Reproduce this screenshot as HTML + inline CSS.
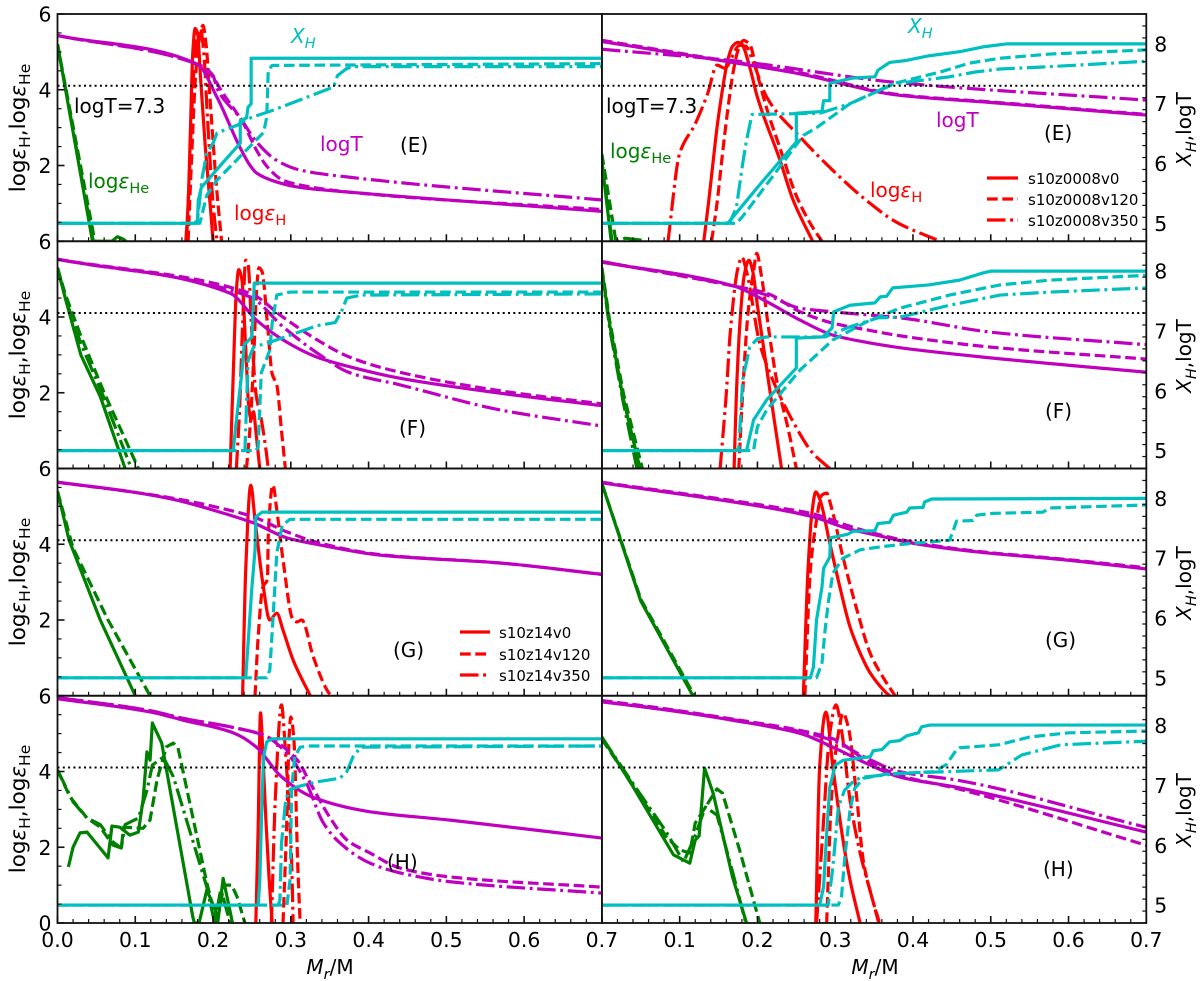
<!DOCTYPE html>
<html>
<head>
<meta charset="utf-8">
<title>Stellar profile panels</title>
<style>
html,body{margin:0;padding:0;background:#fff;}
svg{display:block;font-family:"DejaVu Sans","Liberation Sans",sans-serif;}
text{fill:#000;}
.m{font-size:20px;}
.g{fill:#008000;}.r{fill:#ff0000;}.c{fill:#00bfbf;}.p{fill:#bf00bf;}
.i{font-style:italic;}
.yl{font-size:21.5px;}
</style>
</head>
<body>
<svg id="chart" xmlns="http://www.w3.org/2000/svg" width="1200" height="981" viewBox="0 0 1200 981">
<rect x="0" y="0" width="1200" height="981" fill="#fff"/>
<g id="marks"></g>
<g id="frames"></g>

<g class="m">
<text x="291" y="43" class="c i">X<tspan dy="5" font-size="14.5">H</tspan></text>
<text x="908" y="33" class="c i">X<tspan dy="5" font-size="14.5">H</tspan></text>
<text x="74" y="113">logT=7.3</text>
<text x="606" y="113">logT=7.3</text>
<text x="88" y="188" class="g">log<tspan class="i">ε</tspan><tspan dy="5" font-size="14.5">He</tspan></text>
<text x="610" y="158" class="g">log<tspan class="i">ε</tspan><tspan dy="5" font-size="14.5">He</tspan></text>
<text x="320" y="151" class="p">logT</text>
<text x="936" y="127" class="p">logT</text>
<text x="234" y="220" class="r">log<tspan class="i">ε</tspan><tspan dy="5" font-size="14.5">H</tspan></text>
<text x="870" y="197" class="r">log<tspan class="i">ε</tspan><tspan dy="5" font-size="14.5">H</tspan></text>
<text x="400" y="152">(E)</text>
<text x="1044" y="140">(E)</text>
<text x="399" y="435">(F)</text>
<text x="1045" y="418">(F)</text>
<text x="393" y="657">(G)</text>
<text x="1045" y="647">(G)</text>
<text x="387" y="869">(H)</text>
<text x="1043" y="876">(H)</text>
</g>

<g font-size="15">
<line x1="987" x2="1018" y1="178" y2="178" stroke="#f00" stroke-width="3.2"/>
<text x="1028" y="184">s10z0008v0</text>
<line x1="987" x2="1018" y1="199" y2="199" stroke="#f00" stroke-width="3.2" stroke-dasharray="10.7 4.6"/>
<text x="1028" y="205">s10z0008v120</text>
<line x1="987" x2="1018" y1="220" y2="220" stroke="#f00" stroke-width="3.2" stroke-dasharray="18.5 4.6 2.9 4.6"/>
<text x="1028" y="226">s10z0008v350</text>
</g>
<g font-size="15">
<line x1="460" x2="490" y1="632" y2="632" stroke="#f00" stroke-width="3.2"/>
<text x="499" y="638">s10z14v0</text>
<line x1="460" x2="490" y1="654" y2="654" stroke="#f00" stroke-width="3.2" stroke-dasharray="10.7 4.6"/>
<text x="499" y="660">s10z14v120</text>
<line x1="460" x2="490" y1="675" y2="675" stroke="#f00" stroke-width="3.2" stroke-dasharray="18.5 4.6 2.9 4.6"/>
<text x="499" y="681">s10z14v350</text>
</g>

<g class="m">
<text x="330" y="974" text-anchor="middle"><tspan class="i">M</tspan><tspan class="i" dy="5" font-size="14.5">r</tspan><tspan dy="-5">/M</tspan></text>
<text x="875" y="974" text-anchor="middle"><tspan class="i">M</tspan><tspan class="i" dy="5" font-size="14.5">r</tspan><tspan dy="-5">/M</tspan></text>
<text class="yl" transform="translate(25,128) rotate(-90)" text-anchor="middle">log<tspan class="i">ε</tspan><tspan dy="5" font-size="15.5">H</tspan><tspan dy="-5">,log</tspan><tspan class="i">ε</tspan><tspan dy="5" font-size="15.5">He</tspan></text>
<text class="yl" transform="translate(25,355) rotate(-90)" text-anchor="middle">log<tspan class="i">ε</tspan><tspan dy="5" font-size="15.5">H</tspan><tspan dy="-5">,log</tspan><tspan class="i">ε</tspan><tspan dy="5" font-size="15.5">He</tspan></text>
<text class="yl" transform="translate(25,582) rotate(-90)" text-anchor="middle">log<tspan class="i">ε</tspan><tspan dy="5" font-size="15.5">H</tspan><tspan dy="-5">,log</tspan><tspan class="i">ε</tspan><tspan dy="5" font-size="15.5">He</tspan></text>
<text class="yl" transform="translate(25,809) rotate(-90)" text-anchor="middle">log<tspan class="i">ε</tspan><tspan dy="5" font-size="15.5">H</tspan><tspan dy="-5">,log</tspan><tspan class="i">ε</tspan><tspan dy="5" font-size="15.5">He</tspan></text>
<text transform="translate(1191,129) rotate(-90)" text-anchor="middle"><tspan class="i">X</tspan><tspan class="i" dy="5" font-size="14.5">H</tspan><tspan dy="-5">,logT</tspan></text>
<text transform="translate(1191,356) rotate(-90)" text-anchor="middle"><tspan class="i">X</tspan><tspan class="i" dy="5" font-size="14.5">H</tspan><tspan dy="-5">,logT</tspan></text>
<text transform="translate(1191,583) rotate(-90)" text-anchor="middle"><tspan class="i">X</tspan><tspan class="i" dy="5" font-size="14.5">H</tspan><tspan dy="-5">,logT</tspan></text>
<text transform="translate(1191,810) rotate(-90)" text-anchor="middle"><tspan class="i">X</tspan><tspan class="i" dy="5" font-size="14.5">H</tspan><tspan dy="-5">,logT</tspan></text>
</g>
</svg>

<script>
// Tick values
const xMajorTicks = [0.0,0.1,0.2,0.3,0.4,0.5,0.6,0.7];
const leftMajorTicks = [6,4,2,0];
const rightMajorTicks = [5,6,7,8];
const dottedLevel = [7.3];

// ---- Panel E, left ----
const eLHeV0 = [[0,5.2],[0.045,0],[0.07,0],[0.077,0.12],[0.085,0.05],[0.088,0]];
const eLHeV120 = [[0,5.2],[0.048,0]];
const eLHeV350 = [[0,5.2],[0.046,0]];
const eLHV0 = [[0.165,0],[0.168,1],[0.171,3],[0.174,5],[0.177,5.62],[0.18,5.5],[0.184,4.3],[0.19,2.5],[0.197,0.8],[0.2,0]];
const eLHV120 = [[0.168,0],[0.172,2],[0.178,4.5],[0.183,5.4],[0.187,5.7],[0.191,5.2],[0.197,3.5],[0.205,1.3],[0.211,0]];
const eLHV350 = [[0.166,0],[0.17,2],[0.175,4.4],[0.18,5.5],[0.184,5.6],[0.188,5],[0.193,3.2],[0.2,1],[0.205,0]];
const eLTV0 = [[0,8.14],[0.18,7.66],[0.205,7.11],[0.235,6.26],[0.2475,5.97],[0.256,5.84],[0.282,5.69],[0.312,5.6],[0.376,5.52],[0.7,5.2]];
const eLTV120 = [[0,8.14],[0.18,7.66],[0.196,7.51],[0.213,7.17],[0.239,6.67],[0.256,6.22],[0.27,5.94],[0.29,5.72],[0.312,5.64],[0.376,5.52],[0.7,5.23]];
const eLTV350 = [[0,8.14],[0.18,7.66],[0.2,7.47],[0.205,7.26],[0.235,6.76],[0.256,6.36],[0.282,6.05],[0.312,5.89],[0.376,5.77],[0.7,5.39]];
const eLXV0 = [[0,5],[0.176,5],[0.18,5.05],[0.181,5.38],[0.185,5.6],[0.213,6.02],[0.235,6.34],[0.235,6.72],[0.243,6.76],[0.245,6.94],[0.249,7],[0.249,7.76],[0.7,7.76]];
const eLXV120 = [[0,5],[0.183,5],[0.192,5.47],[0.205,5.72],[0.265,6.52],[0.269,6.77],[0.271,7.56],[0.276,7.64],[0.7,7.67]];
const eLXV350 = [[0,5],[0.178,5],[0.18,5.05],[0.186,5.77],[0.192,6.17],[0.2,6.34],[0.205,6.51],[0.231,6.64],[0.243,6.74],[0.277,6.89],[0.355,7.28],[0.36,7.47],[0.372,7.59],[0.38,7.62],[0.7,7.62]];

// ---- Panel E, right ----
const eRHeV0 = [[0,2.1],[0.012,0]];
const eRHeV120 = [[0,2.3],[0.018,0]];
const eRHeV350 = [[0,2.1],[0.013,0],[0.02,0],[0.03,0.08],[0.05,0.03],[0.054,0]];
const eRHV0 = [[0.131,0],[0.137,1],[0.143,2.1],[0.148,3],[0.155,4],[0.162,4.8],[0.168,5.15],[0.175,5.25],[0.18,5.2],[0.19,4.6],[0.2,3.8],[0.229,2.14],[0.246,1.08],[0.271,0]];
const eRHV120 = [[0.141,0],[0.148,1],[0.155,2.3],[0.162,3.5],[0.17,4.6],[0.176,5.1],[0.182,5.3],[0.19,5.2],[0.2,4.4],[0.212,3.5],[0.23,2.4],[0.25,1.2],[0.27,0.4],[0.283,0]];
const eRHV350 = [[0.085,0],[0.1,2.32],[0.12,3.1],[0.136,3.9],[0.148,4.65],[0.158,4.57],[0.177,5.17],[0.185,5.15],[0.195,4.7],[0.212,3.8],[0.255,2.75],[0.297,1.87],[0.34,1.08],[0.379,0.5],[0.435,0]];
const eRTV0 = [[0,8.04],[0.168,7.69],[0.25,7.51],[0.383,7.14],[0.5,7.02],[0.7,6.81]];
const eRTV120 = [[0,8.06],[0.168,7.7],[0.25,7.53],[0.383,7.15],[0.5,7.03],[0.7,6.82]];
const eRTV350 = [[0,7.91],[0.168,7.72],[0.383,7.35],[0.7,7.06]];
const eRXV0 = [[0,5],[0.162,5],[0.165,5.05],[0.2,5.6],[0.25,6.36],[0.25,6.84],[0.283,6.87],[0.285,7.05],[0.293,7.05],[0.293,7.34],[0.323,7.43],[0.351,7.45],[0.355,7.56],[0.37,7.69],[0.39,7.72],[0.42,7.8],[0.46,7.87],[0.49,7.95],[0.52,8],[0.7,8]];
const eRXV120 = [[0,5],[0.173,5],[0.18,5.1],[0.19,5.27],[0.259,6.47],[0.276,6.6],[0.319,7],[0.379,7.35],[0.435,7.53],[0.473,7.68],[0.512,7.76],[0.576,7.83],[0.7,7.9]];
const eRXV350 = [[0,5],[0.16,5],[0.165,5.03],[0.173,5.27],[0.181,6],[0.186,6.39],[0.193,6.82],[0.28,6.84],[0.319,7],[0.374,7.33],[0.447,7.45],[0.48,7.53],[0.512,7.58],[0.576,7.62],[0.7,7.71]];

// ---- Panel F, left ----
const fLHeV0 = [[0,5.3],[0.01,4.5],[0.03,3],[0.055,1.9],[0.087,0]];
const fLHeV120 = [[0,5.3],[0.01,4.6],[0.03,3.5],[0.06,2],[0.104,0]];
const fLHeV350 = [[0,5.3],[0.01,4.5],[0.03,3.3],[0.058,1.95],[0.095,0]];
const fLHV0 = [[0.222,0],[0.226,2.5],[0.23,4.7],[0.233,5.25],[0.237,5],[0.242,3.2],[0.246,1.6],[0.249,1.3],[0.252,1.5],[0.255,1],[0.26,0]];
const fLHV120 = [[0.243,0],[0.248,1.2],[0.252,2.8],[0.256,4.7],[0.259,5.3],[0.263,5.2],[0.27,3.8],[0.276,2.5],[0.282,2.2],[0.288,1],[0.293,0]];
const fLHV350 = [[0.23,0],[0.234,1.5],[0.238,3.8],[0.242,5.5],[0.245,5.4],[0.25,3.5],[0.255,2],[0.262,1.3],[0.268,0.5],[0.271,0]];
const fLTV0 = [[0,8.2],[0.222,7.63],[0.256,7.18],[0.29,6.85],[0.334,6.56],[0.376,6.4],[0.44,6.21],[0.569,5.96],[0.7,5.75]];
const fLTV120 = [[0,8.2],[0.2475,7.63],[0.29,7.23],[0.334,6.85],[0.376,6.56],[0.44,6.31],[0.569,6],[0.7,5.78]];
const fLTV350 = [[0,8.2],[0.2475,7.57],[0.29,7.07],[0.334,6.63],[0.376,6.3],[0.44,6.1],[0.569,5.68],[0.7,5.41]];
const fLXV0 = [[0,5],[0.226,5],[0.229,5.39],[0.237,6.3],[0.24,6.77],[0.25,6.9],[0.253,7.8],[0.7,7.8]];
const fLXV120 = [[0,5],[0.255,5],[0.258,5.06],[0.262,6.3],[0.273,6.68],[0.276,7.13],[0.282,7.6],[0.299,7.65],[0.7,7.65]];
const fLXV350 = [[0,5],[0.241,5],[0.245,6.5],[0.252,6.73],[0.275,6.82],[0.308,6.97],[0.334,7.09],[0.357,7.14],[0.365,7.32],[0.372,7.55],[0.39,7.6],[0.7,7.62]];

// ---- Panel F, right ----
const fRHeV0 = [[0,5.25],[0.01,3.8],[0.027,1.89],[0.049,0]];
const fRHeV120 = [[0,5.3],[0.01,3.9],[0.028,1.95],[0.052,0]];
const fRHeV350 = [[0,5.2],[0.01,3.7],[0.027,1.8],[0.045,0]];
const fRHV0 = [[0.17,0],[0.173,2],[0.178,4],[0.183,5.1],[0.189,5.5],[0.194,5.2],[0.2,4.3],[0.21,2.9],[0.22,1.5],[0.231,0]];
const fRHV120 = [[0.176,0],[0.181,2],[0.187,3.9],[0.19,4.5],[0.195,5.2],[0.199,5.68],[0.205,5.1],[0.215,3.6],[0.225,2.3],[0.24,1],[0.25,0]];
const fRHV350 = [[0.152,0],[0.16,1.99],[0.165,3.58],[0.175,5.3],[0.18,5.58],[0.186,5.2],[0.203,3.3],[0.216,2.52],[0.246,1.23],[0.271,0.41],[0.293,0]];
const fRTV0 = [[0,8.15],[0.17,7.75],[0.212,7.49],[0.255,7.18],[0.297,6.93],[0.34,6.81],[0.383,6.72],[0.5,6.55],[0.7,6.31]];
const fRTV120 = [[0,8.16],[0.17,7.75],[0.212,7.63],[0.255,7.32],[0.297,7.13],[0.34,7.02],[0.383,6.92],[0.5,6.73],[0.7,6.53]];
const fRTV350 = [[0,8.16],[0.17,7.75],[0.212,7.6],[0.255,7.38],[0.297,7.32],[0.34,7.27],[0.383,7.22],[0.5,6.98],[0.7,6.77]];
const fRXV0 = [[0,5],[0.186,5],[0.195,5.51],[0.212,5.85],[0.25,6.38],[0.25,6.88],[0.284,6.9],[0.296,7.05],[0.298,7.32],[0.319,7.43],[0.351,7.47],[0.358,7.57],[0.366,7.58],[0.374,7.72],[0.383,7.73],[0.42,7.77],[0.46,7.85],[0.49,7.97],[0.5,8],[0.7,8]];
const fRXV120 = [[0,5],[0.195,5],[0.2,5.4],[0.212,5.68],[0.255,6.35],[0.297,6.85],[0.34,7.15],[0.383,7.38],[0.447,7.6],[0.512,7.77],[0.576,7.85],[0.7,7.93]];
const fRXV350 = [[0,5],[0.174,5],[0.176,5.05],[0.181,6.18],[0.19,6.73],[0.2,6.87],[0.212,6.9],[0.287,6.9],[0.319,7.07],[0.355,7.22],[0.383,7.23],[0.447,7.43],[0.512,7.6],[0.576,7.65],[0.7,7.72]];

// ---- Panel G, left ----
const gLHeV0 = [[0,5.4],[0.015,4.1],[0.055,2],[0.1,0]];
const gLHeV120 = [[0,5.4],[0.02,3.9],[0.065,2],[0.119,0]];
const gLHV0 = [[0.238,0],[0.242,3.32],[0.2485,5.56],[0.254,4.64],[0.264,2.97],[0.273,2],[0.282,2.18],[0.29,1.73],[0.303,0.94],[0.325,0]];
const gLHV120 = [[0.254,0],[0.258,1.55],[0.264,2.87],[0.27,3.1],[0.271,4.2],[0.277,5.56],[0.282,4.9],[0.29,3.58],[0.303,2],[0.308,1.95],[0.314,2],[0.329,1.02],[0.348,0.1],[0.352,0]];
const gLTV0 = [[0,8.27],[0.1,8.1],[0.15,7.98],[0.209,7.77],[0.252,7.59],[0.295,7.34],[0.338,7.22],[0.415,7.05],[0.569,6.92],[0.7,6.73]];
const gLTV120 = [[0,8.27],[0.1,8.1],[0.15,8],[0.209,7.84],[0.252,7.69],[0.295,7.44],[0.338,7.25],[0.415,7.06],[0.569,6.92],[0.7,6.73]];
const gLXV0 = [[0,5],[0.242,5],[0.25,6.52],[0.254,7.14],[0.255,7.69],[0.263,7.77],[0.7,7.77]];
const gLXV120 = [[0,5],[0.269,5],[0.273,5.13],[0.277,5.97],[0.282,7.09],[0.289,7.55],[0.299,7.65],[0.7,7.65]];

// ---- Panel G, right ----
const gRHeV0 = [[0,5.6],[0.05,2.5],[0.117,0]];
const gRHeV120 = [[0,5.6],[0.05,2.55],[0.119,0]];
const gRHV0 = [[0.259,0],[0.265,3.32],[0.27,4.82],[0.275,5.38],[0.28,5.2],[0.293,4.03],[0.306,2.87],[0.319,1.82],[0.332,1.13],[0.345,0.6],[0.366,0.07],[0.37,0]];
const gRHV120 = [[0.261,0],[0.268,3.3],[0.274,4.37],[0.283,5.3],[0.289,5.35],[0.295,4.98],[0.31,3.66],[0.328,2.26],[0.345,1.12],[0.362,0.47],[0.377,0]];
const gRTV0 = [[0,8.26],[0.229,7.81],[0.272,7.69],[0.315,7.5],[0.358,7.37],[0.4,7.25],[0.486,7.1],[0.589,6.98],[0.7,6.82]];
const gRTV120 = [[0,8.27],[0.229,7.84],[0.272,7.74],[0.315,7.55],[0.358,7.39],[0.4,7.27],[0.486,7.11],[0.589,6.99],[0.7,6.84]];
const gRXV0 = [[0,5],[0.268,5],[0.272,5.18],[0.276,5.97],[0.283,6.52],[0.285,6.83],[0.293,7.02],[0.294,7.34],[0.316,7.4],[0.323,7.45],[0.351,7.46],[0.355,7.58],[0.37,7.6],[0.375,7.72],[0.392,7.77],[0.396,7.84],[0.413,7.85],[0.415,7.94],[0.424,7.99],[0.7,8]];
const gRXV120 = [[0,5],[0.276,5],[0.283,5.25],[0.287,5.8],[0.291,6.25],[0.297,6.75],[0.31,7],[0.332,7.14],[0.358,7.19],[0.392,7.24],[0.447,7.3],[0.452,7.47],[0.456,7.62],[0.477,7.63],[0.482,7.72],[0.503,7.75],[0.567,7.77],[0.576,7.84],[0.7,7.89]];

// ---- Panel H, left ----
const hLHeV0 = [[0.014,1.48],[0.02,2],[0.029,2.38],[0.038,2.4],[0.059,1.87],[0.065,1.72],[0.07,2.56],[0.08,2.53],[0.093,2.32],[0.104,2.4],[0.11,3.25],[0.115,4.52],[0.119,4.3],[0.122,5.28],[0.134,4.75],[0.174,0.16],[0.176,0],[0.182,0],[0.192,0.87],[0.203,0.34],[0.206,0],[0.213,1.18],[0.225,0]];
const hLHeV120 = [[0,4.04],[0.016,3.33],[0.038,2.77],[0.055,2.53],[0.071,2.06],[0.082,1.98],[0.085,2.53],[0.11,2.5],[0.119,2.72],[0.128,3.78],[0.14,4.65],[0.149,4.75],[0.155,4.62],[0.192,1.06],[0.205,0],[0.214,1],[0.224,1],[0.231,0.69],[0.241,0]];
const hLHeV350 = [[0,4.04],[0.02,3.2],[0.038,2.77],[0.055,2.6],[0.071,2.14],[0.082,1.98],[0.087,2.6],[0.104,2.77],[0.115,3.5],[0.122,4.17],[0.136,4.38],[0.149,3.86],[0.192,0.95],[0.202,0],[0.21,0.9],[0.222,0]];
const hLHV0 = [[0.255,0],[0.258,2.5],[0.261,5.55],[0.264,4.5],[0.268,2.7],[0.272,1.2],[0.276,0]];
const hLHV120 = [[0.29,0],[0.295,2.8],[0.298,5],[0.3,5.44],[0.304,4.83],[0.309,1.48],[0.312,0]];
const hLHV350 = [[0.275,0],[0.28,3.25],[0.288,5.76],[0.293,4.57],[0.299,2.54],[0.301,1.66],[0.303,0]];
const hLTV0 = [[0,8.45],[0.119,8.23],[0.162,8.09],[0.226,7.88],[0.26,7.59],[0.265,7.51],[0.286,7.17],[0.329,6.8],[0.402,6.56],[0.505,6.42],[0.7,6.12]];
const hLTV120 = [[0,8.47],[0.119,8.25],[0.162,8.12],[0.222,7.98],[0.265,7.84],[0.308,7.43],[0.325,7.04],[0.35,6.47],[0.372,6.09],[0.402,5.87],[0.44,5.62],[0.505,5.47],[0.7,5.3]];
const hLTV350 = [[0,8.47],[0.119,8.25],[0.162,8.12],[0.222,7.98],[0.265,7.84],[0.299,7.48],[0.32,7.04],[0.342,6.37],[0.363,6.04],[0.402,5.7],[0.44,5.54],[0.505,5.39],[0.7,5.2]];
const hLXV0 = [[0,5],[0.258,5],[0.26,5.37],[0.263,6.76],[0.265,7.48],[0.269,7.73],[0.276,7.78],[0.7,7.78]];
const hLXV120 = [[0,5],[0.295,5],[0.299,5.42],[0.301,6.92],[0.305,7.48],[0.312,7.64],[0.325,7.66],[0.7,7.66]];
const hLXV350 = [[0,5],[0.284,5],[0.286,5.09],[0.288,6.03],[0.293,6.7],[0.297,6.92],[0.312,6.99],[0.333,7.06],[0.363,7.12],[0.372,7.23],[0.38,7.48],[0.39,7.64],[0.7,7.66]];

// ---- Panel H, right ----
const hRHeV0 = [[0,4.91],[0.04,3.6],[0.092,1.8],[0.113,1.58],[0.12,2.19],[0.125,2.3],[0.132,4.09],[0.143,3.43],[0.168,1.21],[0.186,0]];
const hRHeV120 = [[0,4.85],[0.04,3.64],[0.083,2.27],[0.1,1.93],[0.113,1.85],[0.12,2.64],[0.135,3.12],[0.148,3.54],[0.155,3.43],[0.177,1.93],[0.203,0]];
const hRHeV350 = [[0,4.9],[0.04,3.68],[0.083,2.4],[0.105,1.61],[0.118,2.2],[0.133,3.06],[0.148,2.85],[0.168,1.35],[0.185,0]];
const hRHV0 = [[0.275,0],[0.28,4.12],[0.288,5.57],[0.297,4.12],[0.31,2.19],[0.319,1.14],[0.332,0]];
const hRHV120 = [[0.289,0],[0.295,3.25],[0.304,5],[0.31,5.54],[0.317,5.15],[0.328,3.25],[0.336,1.66],[0.347,0.69],[0.357,0]];
const hRHV350 = [[0.276,0],[0.284,2.38],[0.293,5],[0.301,5.76],[0.308,5.1],[0.319,3.25],[0.332,1.85],[0.347,0.69],[0.356,0]];
const hRTV0 = [[0,8.4],[0.083,8.26],[0.168,8.09],[0.255,7.87],[0.297,7.64],[0.34,7.37],[0.383,7.14],[0.456,6.97],[0.7,6.22]];
const hRTV120 = [[0,8.42],[0.083,8.28],[0.168,8.11],[0.255,7.92],[0.297,7.78],[0.34,7.42],[0.383,7.17],[0.456,6.95],[0.7,6]];
const hRTV350 = [[0,8.4],[0.083,8.27],[0.168,8.1],[0.255,7.9],[0.297,7.75],[0.34,7.46],[0.383,7.23],[0.456,7.09],[0.7,6.3]];
const hRXV0 = [[0,5],[0.28,5],[0.285,5.3],[0.289,6.2],[0.293,6.97],[0.3,7.34],[0.31,7.42],[0.345,7.48],[0.349,7.58],[0.36,7.6],[0.37,7.73],[0.383,7.75],[0.392,7.83],[0.407,7.88],[0.411,7.98],[0.422,8.01],[0.7,8.01]];
const hRXV120 = [[0,5],[0.304,5],[0.308,5.13],[0.312,5.75],[0.319,6.59],[0.325,6.95],[0.336,7.12],[0.366,7.19],[0.426,7.23],[0.443,7.35],[0.456,7.6],[0.46,7.63],[0.51,7.68],[0.55,7.81],[0.6,7.88],[0.7,7.91]];
const hRXV350 = [[0,5],[0.291,5],[0.297,5.64],[0.304,6.64],[0.312,6.92],[0.325,7.09],[0.336,7.14],[0.383,7.2],[0.44,7.23],[0.51,7.26],[0.54,7.51],[0.59,7.68],[0.7,7.74]];

// Panel membership (row/column indices, series in style order: solid, dashed, dash-dot)
const panelList = [
 {key:'e-left', row:0,col:0,he:[eLHeV0,eLHeV120,eLHeV350],h:[eLHV0,eLHV120,eLHV350],t:[eLTV0,eLTV120,eLTV350],x:[eLXV0,eLXV120,eLXV350]},
 {key:'e-right',row:0,col:1,he:[eRHeV0,eRHeV120,eRHeV350],h:[eRHV0,eRHV120,eRHV350],t:[eRTV0,eRTV120,eRTV350],x:[eRXV0,eRXV120,eRXV350]},
 {key:'f-left', row:1,col:0,he:[fLHeV0,fLHeV120,fLHeV350],h:[fLHV0,fLHV120,fLHV350],t:[fLTV0,fLTV120,fLTV350],x:[fLXV0,fLXV120,fLXV350]},
 {key:'f-right',row:1,col:1,he:[fRHeV0,fRHeV120,fRHeV350],h:[fRHV0,fRHV120,fRHV350],t:[fRTV0,fRTV120,fRTV350],x:[fRXV0,fRXV120,fRXV350]},
 {key:'g-left', row:2,col:0,he:[gLHeV0,gLHeV120],h:[gLHV0,gLHV120],t:[gLTV0,gLTV120],x:[gLXV0,gLXV120]},
 {key:'g-right',row:2,col:1,he:[gRHeV0,gRHeV120],h:[gRHV0,gRHV120],t:[gRTV0,gRTV120],x:[gRXV0,gRXV120]},
 {key:'h-left', row:3,col:0,he:[hLHeV0,hLHeV120,hLHeV350],h:[hLHV0,hLHV120,hLHV350],t:[hLTV0,hLTV120,hLTV350],x:[hLXV0,hLXV120,hLXV350]},
 {key:'h-right',row:3,col:1,he:[hRHeV0,hRHeV120,hRHeV350],h:[hRHV0,hRHV120,hRHV350],t:[hRTV0,hRTV120,hRTV350],x:[hRXV0,hRXV120,hRXV350]}
];

const NS = 'http://www.w3.org/2000/svg';
const PLOT_LEFT = 57.5, COL_W = 544.4, ROW_TOP = 14, ROW_H = 227.25;
const X_SPAN = 0.7, L_MIN = 0, L_MAX = 6, R_MIN = 4.7, R_MAX = 8.5;
const DASH = [null, '10.7 4.6', '18.5 4.6 2.9 4.6'];
const STYLE_NAMES = ['v0','v120','v350'];
const COLORS = {he:'#008000', h:'#ff0000', t:'#bf00bf', x:'#00bfbf'};
const KIND_NAMES = {he:'log-eps-he', h:'log-eps-h', t:'logt', x:'x-h'};
const marksLayer = document.getElementById('marks');
const framesLayer = document.getElementById('frames');
const defs = document.createElementNS(NS,'defs');
marksLayer.appendChild(defs);

function xScale(col, v){ return PLOT_LEFT + col*COL_W + (v/X_SPAN)*COL_W; }
function yLeft(row, v){ return ROW_TOP + row*ROW_H + ((L_MAX-v)/(L_MAX-L_MIN))*ROW_H; }
function yRight(row, v){ return ROW_TOP + row*ROW_H + ((R_MAX-v)/(R_MAX-R_MIN))*ROW_H; }

function linearPath(pts){
  return pts.map(function(p,j){ return (j?'L':'M') + p[0].toFixed(2) + ' ' + p[1].toFixed(2); }).join(' ');
}
// Monotone cubic through the screen points, for the smooth profiles
function smoothPath(pts){
  const n = pts.length;
  if(n<3) return linearPath(pts);
  const dx=[], s=[], m=[];
  for(let i=0;i<n-1;i++){
    dx[i]=pts[i+1][0]-pts[i][0];
    s[i]=(pts[i+1][1]-pts[i][1])/dx[i];
  }
  m[0]=s[0]; m[n-1]=s[n-2];
  for(let i=1;i<n-1;i++){
    if(s[i-1]*s[i]<=0){ m[i]=0; }
    else{
      const w1=2*dx[i]+dx[i-1], w2=dx[i]+2*dx[i-1];
      m[i]=(w1+w2)/(w1/s[i-1]+w2/s[i]);
    }
  }
  let d='M'+pts[0][0].toFixed(2)+' '+pts[0][1].toFixed(2);
  for(let i=0;i<n-1;i++){
    const h=dx[i]/3;
    d+=' C'+(pts[i][0]+h).toFixed(2)+' '+(pts[i][1]+m[i]*h).toFixed(2)+' '+
        (pts[i+1][0]-h).toFixed(2)+' '+(pts[i+1][1]-m[i+1]*h).toFixed(2)+' '+
        pts[i+1][0].toFixed(2)+' '+pts[i+1][1].toFixed(2);
  }
  return d;
}

function drawTick(x1,y1,x2,y2,w){
  const l = document.createElementNS(NS,'line');
  l.setAttribute('x1',x1); l.setAttribute('y1',y1);
  l.setAttribute('x2',x2); l.setAttribute('y2',y2);
  l.setAttribute('stroke','#111'); l.setAttribute('stroke-width',w);
  
  
  framesLayer.appendChild(l);
}
function drawLabel(x,y,str,anchor){
  const t = document.createElementNS(NS,'text');
  t.setAttribute('x',x); t.setAttribute('y',y);
  t.setAttribute('font-size','20.4');
  t.setAttribute('text-anchor',anchor);
  t.textContent = str;
  
  
  framesLayer.appendChild(t);
}

panelList.forEach(function(p){
  const x0 = xScale(p.col,0), x1 = xScale(p.col,X_SPAN);
  const y0 = yLeft(p.row,L_MAX), y1 = yLeft(p.row,L_MIN);
  const clipId = 'clip-' + p.key;
  const cp = document.createElementNS(NS,'clipPath');
  cp.setAttribute('id',clipId);
  const cr = document.createElementNS(NS,'rect');
  cr.setAttribute('x',x0); cr.setAttribute('y',y0);
  cr.setAttribute('width',x1-x0); cr.setAttribute('height',y1-y0);
  cp.appendChild(cr); defs.appendChild(cp);
  const g = document.createElementNS(NS,'g');
  g.setAttribute('clip-path','url(#'+clipId+')');
  
  
  marksLayer.appendChild(g);

  ['he','h','t','x'].forEach(function(kind){
    p[kind].forEach(function(arr,i){
      const useRight = (kind==='t'||kind==='x');
      const pts = arr.map(function(pt){
        return [xScale(p.col,pt[0]), useRight ? yRight(p.row,pt[1]) : yLeft(p.row,pt[1])];
      });
      const path = document.createElementNS(NS,'path');
      path.setAttribute('d',(kind==='t'||kind==='h') ? smoothPath(pts) : linearPath(pts));
      path.setAttribute('fill','none');
      path.setAttribute('stroke',COLORS[kind]);
      path.setAttribute('stroke-width','3.2');
      path.setAttribute('stroke-linejoin','round');
      if(DASH[i]) path.setAttribute('stroke-dasharray',DASH[i]);
      
      
      g.appendChild(path);
    });
  });

  const dot = document.createElementNS(NS,'line');
  dot.setAttribute('x1',x0); dot.setAttribute('x2',x1);
  dot.setAttribute('y1',yRight(p.row,dottedLevel[0]));
  dot.setAttribute('y2',yRight(p.row,dottedLevel[0]));
  dot.setAttribute('stroke','#000');
  dot.setAttribute('stroke-width','2');
  dot.setAttribute('stroke-dasharray','2 3.3');
  
  
  g.appendChild(dot);

  // x ticks
  for(let k=0;k<=35;k++){
    const v = k*0.02;
    const major = (k%5===0);
    const px = xScale(p.col,v);
    drawTick(px,y1,px,y1-(major?7:4),major?1.6:1.2);
  }
  // y ticks
  if(p.col===0){
    for(let k=0;k<=12;k++){
      const v=k*0.5, major=(k%4===0), py=yLeft(p.row,v);
      drawTick(x0,py,x0+(major?7:4),py,major?1.6:1.2);
    }
    leftMajorTicks.forEach(function(v){
      if(v===0 && p.row!==3) return;
      drawLabel(x0-6,yLeft(p.row,v)+7.5,String(v),'end');
    });
  } else {
    for(let k=0;k<=19;k++){
      const v=R_MIN+k*0.2;
      const major=(Math.abs(v-Math.round(v))<1e-6);
      const py=yRight(p.row,v);
      drawTick(x1,py,x1-(major?7:4),py,major?1.6:1.2);
    }
    rightMajorTicks.forEach(function(v){
      drawLabel(x1+8,yRight(p.row,v)+7.5,String(v),'start');
    });
  }
  // x tick labels on last row
  if(p.row===3){
    xMajorTicks.forEach(function(v){
      if(p.col===1 && v===0) return;
      drawLabel(xScale(p.col,v),947,v.toFixed(1),'middle');
    });
  }
  // frame
  const f = document.createElementNS(NS,'rect');
  f.setAttribute('x',x0); f.setAttribute('y',y0);
  f.setAttribute('width',x1-x0); f.setAttribute('height',y1-y0);
  f.setAttribute('fill','none');
  f.setAttribute('stroke','#111');
  f.setAttribute('stroke-width','1.8');
  
  
  framesLayer.appendChild(f);
});
</script>
</body>
</html>
